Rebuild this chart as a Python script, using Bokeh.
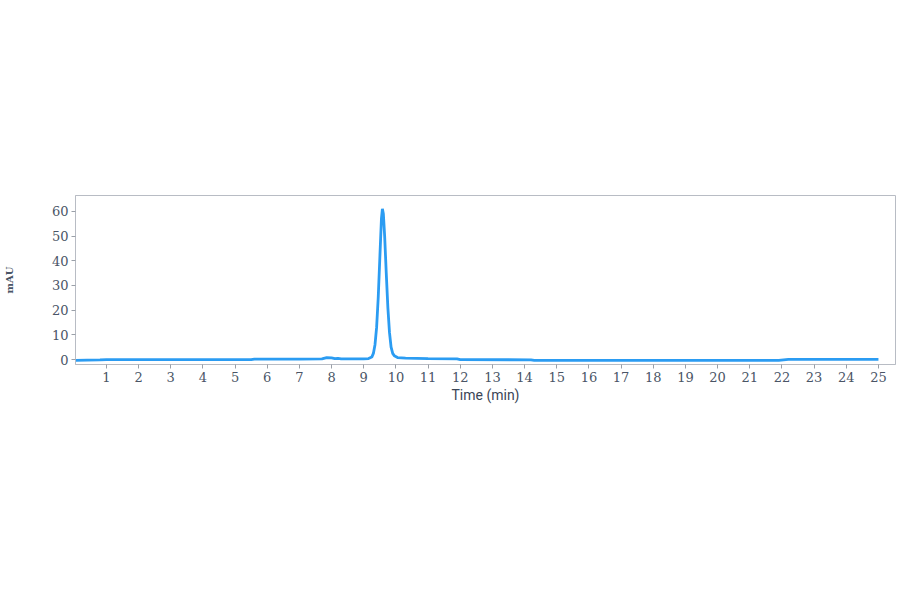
from bokeh.plotting import figure
from bokeh.embed import file_html
from bokeh.resources import INLINE
from bokeh.models import Range1d, FixedTicker

# Chromatogram trace (time in min, absorbance in mAU)
time_min = [0.05, 0.4, 0.8, 1.0, 3.0, 5.5, 5.6, 7.0, 7.7, 7.85, 8.0, 8.1, 8.2, 8.3,
            9.0, 9.15, 9.25, 9.3, 9.35, 9.4, 9.45, 9.5, 9.55, 9.58, 9.61, 9.65, 9.7,
            9.75, 9.8, 9.85, 9.9, 9.95, 10.05, 10.3, 11.0, 11.9, 12.0, 14.2, 14.3,
            18.0, 21.9, 22.2, 25.0]
mau = [-0.3, -0.2, -0.1, 0.0, 0.0, 0.0, 0.2, 0.2, 0.3, 0.8, 0.7, 0.4, 0.5, 0.3,
       0.3, 0.4, 1.0, 2.5, 6.0, 13.0, 25.0, 41.0, 57.0, 61.0, 59.0, 50.0, 35.0,
       21.0, 11.0, 5.0, 2.5, 1.5, 0.8, 0.6, 0.4, 0.3, 0.0, -0.1, -0.3,
       -0.3, -0.3, 0.1, 0.1]

x_ticks = list(range(1, 26))
y_ticks = [0, 10, 20, 30, 40, 50, 60]

p = figure(width=898, height=405, output_backend="svg", toolbar_location=None,
           x_range=Range1d(0.04, 25.53), y_range=Range1d(-2, 66.4))
p.min_border_top = 195
p.min_border_left = 72
p.min_border_right = 3
p.min_border_bottom = 40
p.background_fill_color = "white"
p.border_fill_color = "white"
p.outline_line_color = "#b8bcc4"
p.outline_line_width = 1
p.xgrid.visible = False
p.ygrid.visible = False

p.line(time_min, mau, line_color="#2b9cf2", line_width=2.8)

tick_color = "#4a5566"
for ax in (p.xaxis[0], p.yaxis[0]):
    ax.major_label_text_font = "DejaVu Serif"
    ax.major_label_text_font_size = "13px"
    ax.major_label_text_color = tick_color
    ax.axis_line_color = "#b8bcc4"
    ax.major_tick_line_color = "#9aa0a8"
    ax.major_tick_out = 4
    ax.major_tick_in = 0
    ax.minor_tick_out = 0
    ax.minor_tick_in = 0
    ax.major_label_standoff = 3

p.xaxis.ticker = FixedTicker(ticks=x_ticks)
p.yaxis.ticker = FixedTicker(ticks=y_ticks)

p.xaxis.axis_label = "Time (min)"
p.xaxis.axis_label_text_font = "Roboto"
p.xaxis.axis_label_text_font_style = "normal"
p.xaxis.axis_label_text_font_size = "14px"
p.xaxis.axis_label_text_color = "#3a4556"
p.xaxis.axis_label_standoff = 2

p.yaxis.axis_label = "mAU"
p.yaxis.axis_label_text_font = "DejaVu Serif"
p.yaxis.axis_label_text_font_style = "bold"
p.yaxis.axis_label_text_font_size = "10px"
p.yaxis.axis_label_text_color = "#4a5566"
p.yaxis.axis_label_standoff = 34

open("out.html", "w").write(file_html(p, INLINE))
